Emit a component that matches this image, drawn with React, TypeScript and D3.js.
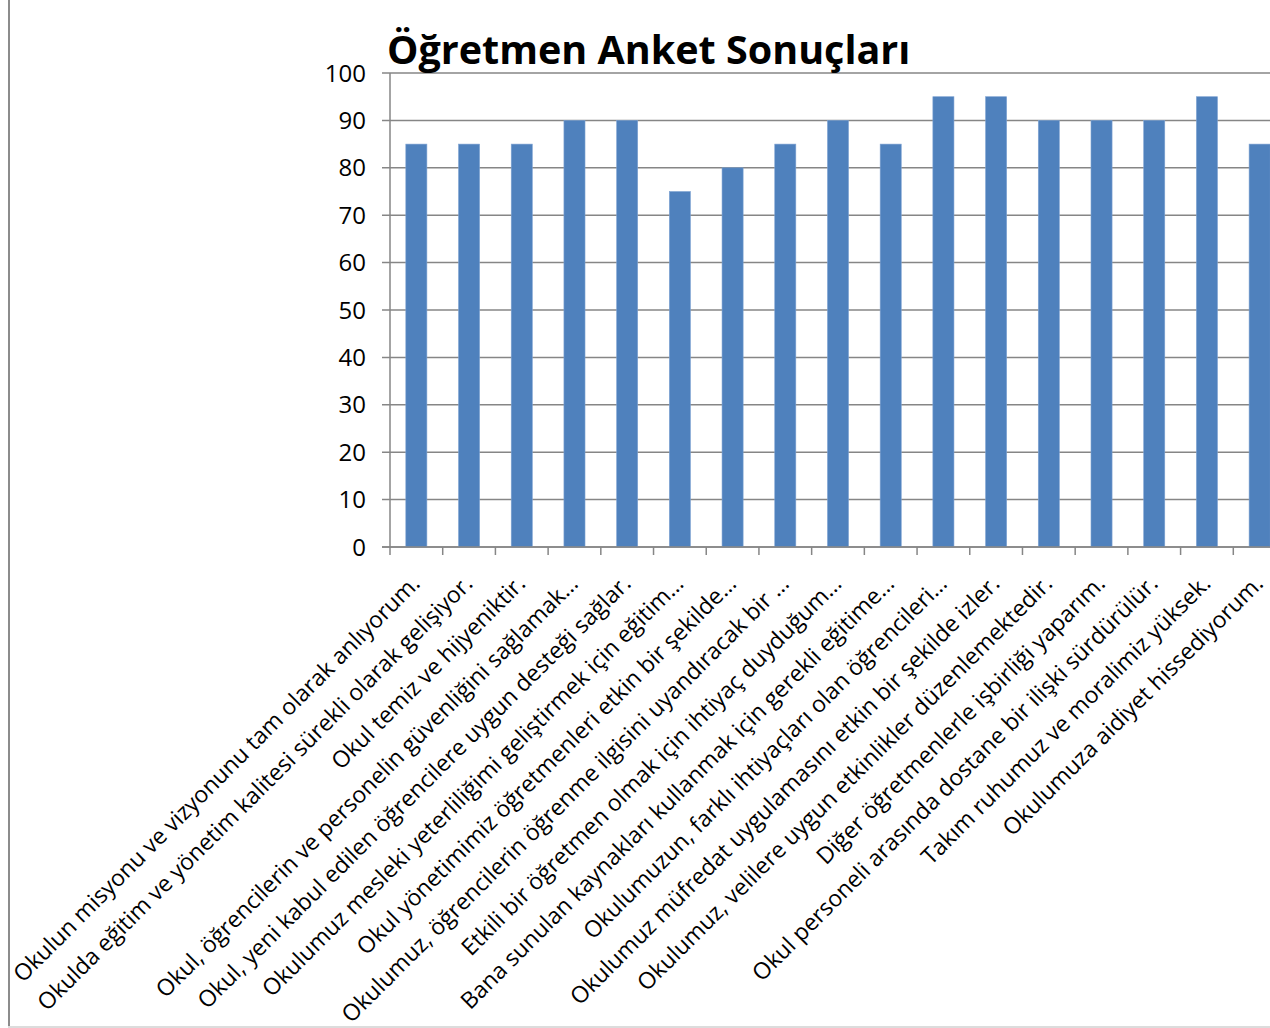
import React from "react";
import * as d3 from "d3";

const title = "Öğretmen Anket Sonuçları";

const categories: string[] = [
  "Okulun misyonu ve vizyonunu tam olarak anlıyorum.",
  "Okulda eğitim ve yönetim kalitesi sürekli olarak gelişiyor.",
  "Okul temiz ve hijyeniktir.",
  "Okul, öğrencilerin ve personelin güvenliğini sağlamak…",
  "Okul, yeni kabul edilen öğrencilere uygun desteği sağlar.",
  "Okulumuz mesleki yeterliliğimi geliştirmek için eğitim…",
  "Okul yönetimimiz öğretmenleri etkin bir şekilde…",
  "Okulumuz, öğrencilerin öğrenme ilgisini uyandıracak bir …",
  "Etkili bir öğretmen olmak için ihtiyaç duyduğum…",
  "Bana sunulan kaynakları kullanmak için gerekli eğitime…",
  "Okulumuzun, farklı ihtiyaçları olan öğrencileri…",
  "Okulumuz müfredat uygulamasını etkin bir şekilde izler.",
  "Okulumuz, velilere uygun etkinlikler düzenlemektedir.",
  "Diğer öğretmenlerle işbirliği yaparım.",
  "Okul personeli arasında dostane bir ilişki sürdürülür.",
  "Takım ruhumuz ve moralimiz yüksek.",
  "Okulumuza aidiyet hissediyorum.",
];

const values: number[] = [85, 85, 85, 90, 90, 75, 80, 85, 90, 85, 95, 95, 90, 90, 90, 95, 85];

const yTicks: number[] = [0, 10, 20, 30, 40, 50, 60, 70, 80, 90, 100];

const W = 1270;
const H = 1028;
const left = 390;
const plotRight = 1286;
const top = 73;
const bottom = 547;

export default function App() {
  const x = d3
    .scaleBand<string>()
    .domain(categories)
    .range([left, plotRight])
    .paddingInner(0.6)
    .paddingOuter(0.3);
  const step = (plotRight - left) / categories.length;
  const y = d3.scaleLinear().domain([0, 100]).range([bottom, top]);
  const font = "'Open Sans', sans-serif";
  const grid = "#868686";

  return (
    <svg
      width={W}
      height={H}
      style={{ position: "absolute", left: 0, top: 0, background: "#fff" }}
    >
      <rect x={0} y={0} width={W} height={H} fill="#fff" />
      {/* frame */}
      <line x1={9} y1={0} x2={9} y2={1027} stroke="#8c8c8c" strokeWidth={2} />
      <line x1={8} y1={1027} x2={W} y2={1027} stroke="#dcdcdc" strokeWidth={2} />

      {/* gridlines */}
      {yTicks.map((t) => (
        <line
          key={"g" + t}
          x1={left - 8}
          x2={plotRight}
          y1={y(t)}
          y2={y(t)}
          stroke={grid}
          strokeWidth={1.5}
        />
      ))}
      {yTicks.map((t) => (
        <text
          key={"t" + t}
          x={366}
          y={y(t)}
          dy="0.36em"
          textAnchor="end"
          fontFamily={font}
          fontSize={24}
          fill="#000"
        >
          {t}
        </text>
      ))}

      {/* bars */}
      {categories.map((c, i) => (
        <rect
          key={"b" + i}
          x={x(c)!}
          y={y(values[i])}
          width={x.bandwidth()}
          height={bottom - y(values[i])}
          fill="#4F81BD"
          stroke="#7fa3d2"
          strokeWidth={0.6}
        />
      ))}

      {/* axes */}
      <line x1={left} x2={left} y1={top} y2={bottom} stroke={grid} strokeWidth={1.5} />
      <line x1={left - 8} x2={plotRight} y1={bottom} y2={bottom} stroke={grid} strokeWidth={1.5} />
      {d3.range(categories.length + 1).map((i) => (
        <line
          key={"xt" + i}
          x1={left + i * step}
          x2={left + i * step}
          y1={bottom}
          y2={bottom + 8}
          stroke={grid}
          strokeWidth={1.5}
        />
      ))}

      {/* category labels */}
      {categories.map((c, i) => {
        const cx = x(c)! + x.bandwidth() / 2 + 5;
        return (
          <text
            key={"l" + i}
            transform={`translate(${cx},${585}) rotate(-45)`}
            textAnchor="end"
            fontFamily={font}
            fontSize={23}
            fill="#000"
          >
            {c}
          </text>
        );
      })}

      {/* title */}
      <text
        x={387}
        y={64}
        fontFamily={font}
        fontWeight="bold"
        fontSize={39.5}
        fill="#000"
      >
        {title}
      </text>
    </svg>
  );
}
